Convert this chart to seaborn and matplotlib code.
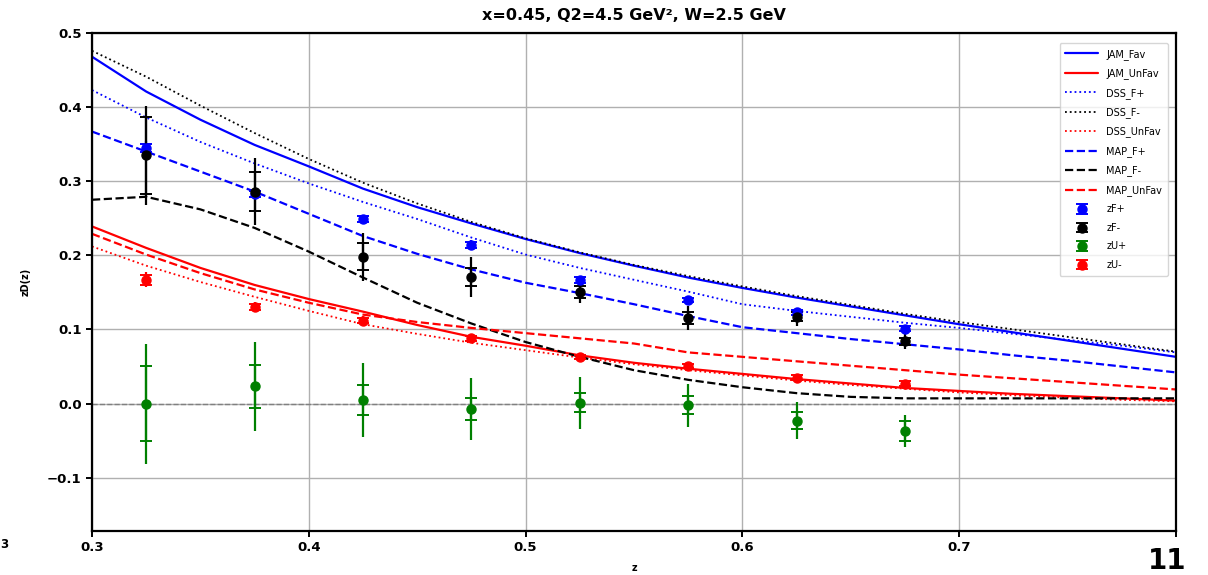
import numpy as np
import pandas as pd
import matplotlib
matplotlib.use("Agg")
import matplotlib.pyplot as plt
import seaborn as sns

# ---- curve grid and model curves ----
z_grid = [0.300, 0.325, 0.350, 0.375, 0.400, 0.425, 0.450, 0.475, 0.500, 0.525,
          0.550, 0.575, 0.600, 0.625, 0.650, 0.675, 0.700, 0.725, 0.750, 0.775, 0.800]

jam_fav = [0.468, 0.421, 0.383, 0.349, 0.320, 0.290, 0.265, 0.243, 0.222, 0.203,
           0.186, 0.170, 0.156, 0.143, 0.131, 0.119, 0.107, 0.096, 0.085, 0.074, 0.063]
jam_unfav = [0.239, 0.210, 0.183, 0.160, 0.141, 0.124, 0.106, 0.090, 0.078, 0.065,
             0.055, 0.047, 0.040, 0.033, 0.027, 0.021, 0.017, 0.013, 0.010, 0.007, 0.004]
dss_fp = [0.423, 0.386, 0.353, 0.324, 0.297, 0.272, 0.249, 0.224, 0.201, 0.183,
          0.167, 0.151, 0.134, 0.125, 0.117, 0.109, 0.102, 0.094, 0.086, 0.078, 0.069]
dss_fm = [0.476, 0.441, 0.402, 0.365, 0.330, 0.298, 0.270, 0.245, 0.223, 0.204,
          0.187, 0.172, 0.158, 0.145, 0.133, 0.121, 0.110, 0.100, 0.090, 0.080, 0.070]
dss_unfav = [0.212, 0.186, 0.164, 0.144, 0.125, 0.107, 0.094, 0.082, 0.072, 0.062,
             0.053, 0.045, 0.038, 0.031, 0.025, 0.020, 0.015, 0.011, 0.008, 0.005, 0.003]
map_fp = [0.367, 0.340, 0.313, 0.286, 0.256, 0.226, 0.202, 0.181, 0.163, 0.149,
          0.134, 0.118, 0.103, 0.095, 0.087, 0.080, 0.073, 0.065, 0.058, 0.050, 0.042]
map_fm = [0.275, 0.279, 0.262, 0.237, 0.205, 0.170, 0.136, 0.108, 0.083, 0.063,
          0.045, 0.032, 0.022, 0.014, 0.009, 0.007, 0.007, 0.007, 0.007, 0.007, 0.007]
map_unfav = [0.229, 0.201, 0.176, 0.154, 0.136, 0.120, 0.110, 0.102, 0.095, 0.088,
             0.081, 0.069, 0.063, 0.057, 0.051, 0.045, 0.039, 0.034, 0.029, 0.024, 0.019]

# ---- data points ----
z_data = [0.325, 0.375, 0.425, 0.475, 0.525, 0.575, 0.625, 0.675]

zfp = [0.345, 0.283, 0.249, 0.214, 0.167, 0.140, 0.123, 0.101]
zfp_stat = [0.005, 0.004, 0.004, 0.004, 0.004, 0.003, 0.003, 0.003]
zfp_tot = [0.009, 0.007, 0.006, 0.006, 0.005, 0.005, 0.005, 0.005]

zfm = [0.335, 0.286, 0.198, 0.171, 0.151, 0.115, 0.117, 0.084]
zfm_stat = [0.052, 0.026, 0.018, 0.012, 0.008, 0.008, 0.006, 0.005]
zfm_tot = [0.067, 0.045, 0.032, 0.027, 0.016, 0.016, 0.012, 0.010]

zup = [0.000, 0.023, 0.005, -0.007, 0.001, -0.002, -0.023, -0.037]
zup_stat = [0.050, 0.029, 0.020, 0.015, 0.013, 0.012, 0.012, 0.014]
zup_tot = [0.081, 0.060, 0.050, 0.042, 0.035, 0.029, 0.025, 0.022]

zum = [0.167, 0.130, 0.112, 0.088, 0.063, 0.051, 0.035, 0.027]
zum_stat = [0.007, 0.004, 0.004, 0.003, 0.003, 0.003, 0.003, 0.003]
zum_tot = [0.010, 0.007, 0.006, 0.005, 0.005, 0.004, 0.004, 0.004]

x_ticks = [0.3, 0.4, 0.5, 0.6, 0.7, 0.8]
x_tick_labels = ["0.3", "0.4", "0.5", "0.6", "0.7", ""]
y_ticks = [-0.1, 0.0, 0.1, 0.2, 0.3, 0.4, 0.5]
y_tick_labels = ["\u22120.1", "0.0", "0.1", "0.2", "0.3", "0.4", "0.5"]

title = "x=0.45, Q2=4.5 GeV\u00b2, W=2.5 GeV"

# ---- figure ----
sns.set_style("ticks")
plt.rcParams["font.family"] = ["DejaVu Sans"]
plt.rcParams["text.color"] = "black"
plt.rcParams["axes.labelcolor"] = "black"
plt.rcParams["xtick.color"] = "black"
plt.rcParams["ytick.color"] = "black"

fig = plt.figure(figsize=(12.08, 5.75), dpi=100)
ax = fig.add_axes([92 / 1208, 1 - 531 / 575, (1176 - 92) / 1208, (531 - 33) / 575])

curves = pd.DataFrame({"z": z_grid})
specs = [
    ("JAM_Fav", jam_fav, "blue", "-"),
    ("JAM_UnFav", jam_unfav, "red", "-"),
    ("DSS_F+", dss_fp, "blue", ":"),
    ("DSS_F-", dss_fm, "black", ":"),
    ("DSS_UnFav", dss_unfav, "red", ":"),
    ("MAP_F+", map_fp, "blue", "--"),
    ("MAP_F-", map_fm, "black", "--"),
    ("MAP_UnFav", map_unfav, "red", "--"),
]
for name, vals, col, ls in specs:
    curves[name] = vals
    lw = 1.3 if ls == ":" else 1.6
    sns.lineplot(data=curves, x="z", y=name, ax=ax, color=col, linestyle=ls,
                 linewidth=lw, label=name)

ax.axhline(0.0, color="gray", linestyle="--", linewidth=1.0, zorder=1)

pts = [
    ("zF+", zfp, zfp_stat, zfp_tot, "blue"),
    ("zF-", zfm, zfm_stat, zfm_tot, "black"),
    ("zU+", zup, zup_stat, zup_tot, "green"),
    ("zU-", zum, zum_stat, zum_tot, "red"),
]
for name, vals, st, tot, col in pts:
    ax.errorbar(z_data, vals, yerr=tot, fmt="none", ecolor=col, elinewidth=1.6, zorder=3)
    ax.errorbar(z_data, vals, yerr=st, fmt="o", color=col, markersize=6.5,
                elinewidth=1.6, capsize=4, capthick=1.4, label=name, zorder=4)

ax.set_xlim(0.3, 0.8)
ax.set_ylim(-0.172, 0.5)
ax.set_xticks(x_ticks)
ax.set_xticklabels(x_tick_labels, fontweight="bold", fontsize=9.5)
ax.set_yticks(y_ticks)
ax.set_yticklabels(y_tick_labels, fontweight="bold", fontsize=9.5)
ax.grid(True, color="#b0b0b0", linewidth=1.0)
ax.set_axisbelow(True)
for s in ax.spines.values():
    s.set_linewidth(1.6)
    s.set_color("black")
ax.tick_params(width=1.4, length=4)

ax.set_title(title, fontweight="bold", fontsize=11.5, pad=9, color="black")
ax.set_xlabel("z", fontweight="bold", fontsize=7, labelpad=6)
ax.set_ylabel("zD(z)", fontweight="bold", fontsize=7, labelpad=12)

ax.legend(loc="upper right", fontsize=7, frameon=True, framealpha=0.8,
          handlelength=3.4, labelspacing=0.88, borderpad=0.6,
          bbox_to_anchor=(0.997, 0.99))

fig.text(1148 / 1208, 0.0, "11", fontsize=20, fontweight="bold", color="black",
         ha="left", va="bottom")
fig.text(0.0, 1 - 545 / 575, "3", fontsize=8.5, fontweight="bold", color="black",
         ha="left", va="center")

fig.savefig("out.png", dpi=100)
